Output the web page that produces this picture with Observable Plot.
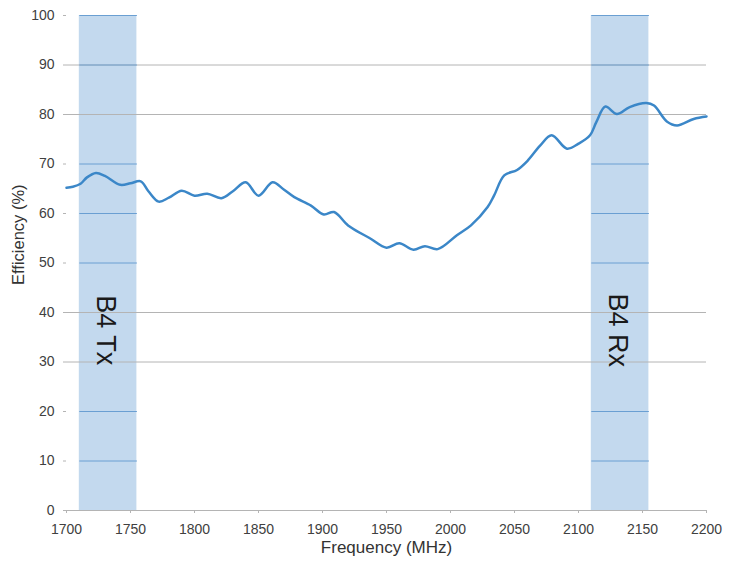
<!DOCTYPE html>
<html>
<head>
<meta charset="utf-8">
<script src="https://cdn.jsdelivr.net/npm/d3@7"></script>
<script src="https://cdn.jsdelivr.net/npm/@observablehq/plot@0.6"></script>
<style>
  html, body { margin: 0; padding: 0; background: #ffffff; }
</style>
</head>
<body>
<div id="chart"></div>
<script>
// Measured efficiency curve
const freq = [1700, 1705, 1711, 1716, 1723, 1730, 1742, 1750, 1758, 1764, 1772, 1780, 1790, 1800, 1810, 1821, 1830, 1840, 1850, 1861, 1870, 1878, 1891, 1901, 1909, 1920, 1937, 1950, 1960, 1971, 1980, 1990, 2005, 2016, 2029, 2034, 2042, 2052, 2060, 2070, 2079, 2091, 2100, 2109, 2114, 2121, 2130, 2140, 2153, 2159, 2169, 2177, 2190, 2200];
const eff  = [65.2, 65.4, 66.0, 67.3, 68.2, 67.6, 65.8, 66.1, 66.5, 64.5, 62.4, 63.2, 64.6, 63.6, 64.0, 63.1, 64.5, 66.3, 63.6, 66.3, 64.8, 63.3, 61.6, 59.8, 60.3, 57.6, 55.0, 53.1, 54.0, 52.7, 53.4, 52.8, 55.6, 57.6, 61.3, 63.6, 67.7, 68.8, 70.6, 73.7, 75.8, 73.1, 74.1, 75.8, 78.5, 81.6, 80.1, 81.5, 82.3, 81.8, 78.6, 77.8, 79.1, 79.6];

// Bands
const bandLabels = ["B4 Tx", "B4 Rx"];
const bandStart = [1710, 2110];
const bandEnd = [1755, 2155];
const bandLabelLevel = 36.4;

// Axes
const xTicks = [1700, 1750, 1800, 1850, 1900, 1950, 2000, 2050, 2100, 2150, 2200];
const yTicks = [0, 10, 20, 30, 40, 50, 60, 70, 80, 90, 100];
const grayGrid = [0, 30, 40, 80, 90];
const blueGrid = [10, 20, 50, 60, 70, 90, 100];

const data = freq.map((f, i) => ({f, v: eff[i]}));
const bands = bandLabels.map((label, i) => ({label, start: bandStart[i], end: bandEnd[i], mid: (bandStart[i] + bandEnd[i]) / 2}));
const bandLines = bands.flatMap(b => blueGrid.map(v => ({start: b.start, end: b.end, v})));

const chart = Plot.plot({
  width: 741,
  height: 563,
  marginLeft: 66,
  marginRight: 35,
  marginTop: 15,
  marginBottom: 53,
  style: {fontFamily: "'Liberation Sans', Arial, sans-serif", fontSize: "14px", color: "#404040", background: "#ffffff"},
  x: {domain: [1700, 2200]},
  y: {domain: [0, 100]},
  marks: [
    Plot.rectY(bands, {x1: "start", x2: "end", y1: 0, y2: 100, fill: "#c3d9ee"}),
    Plot.ruleY(grayGrid, {y: d => d, stroke: "#b4b4b4", strokeWidth: 1}),
    Plot.link(bandLines, {x1: "start", x2: "end", y1: "v", y2: "v", stroke: "#6a9fd2", strokeWidth: 1}),
    Plot.axisY({ticks: yTicks, tickSize: 3, tickPadding: 9, label: null, stroke: "#b4b4b4", fill: "#404040", tickFormat: d => String(d)}),
    Plot.axisX({ticks: xTicks, tickSize: 3, tickPadding: 11, label: null, stroke: "#b4b4b4", fill: "#404040", tickFormat: d => String(d)}),
    Plot.line(data, {x: "f", y: "v", stroke: "#3b87c8", strokeWidth: 2.5, curve: "catmull-rom"}),
    Plot.text(bands, {x: "mid", y: () => bandLabelLevel, text: "label", rotate: 90, fontSize: 27, fill: "#1a1a1a", dx: -2}),
    Plot.text(["Efficiency (%)"], {text: d => d, frameAnchor: "left", dx: -48, dy: 22, rotate: -90, fontSize: 16.5, fill: "#333333"}),
    Plot.text(["Frequency (MHz)"], {text: d => d, frameAnchor: "bottom", dy: 42, fontSize: 17, fill: "#333333"})
  ]
});
document.getElementById("chart").appendChild(chart);
</script>
</body>
</html>
